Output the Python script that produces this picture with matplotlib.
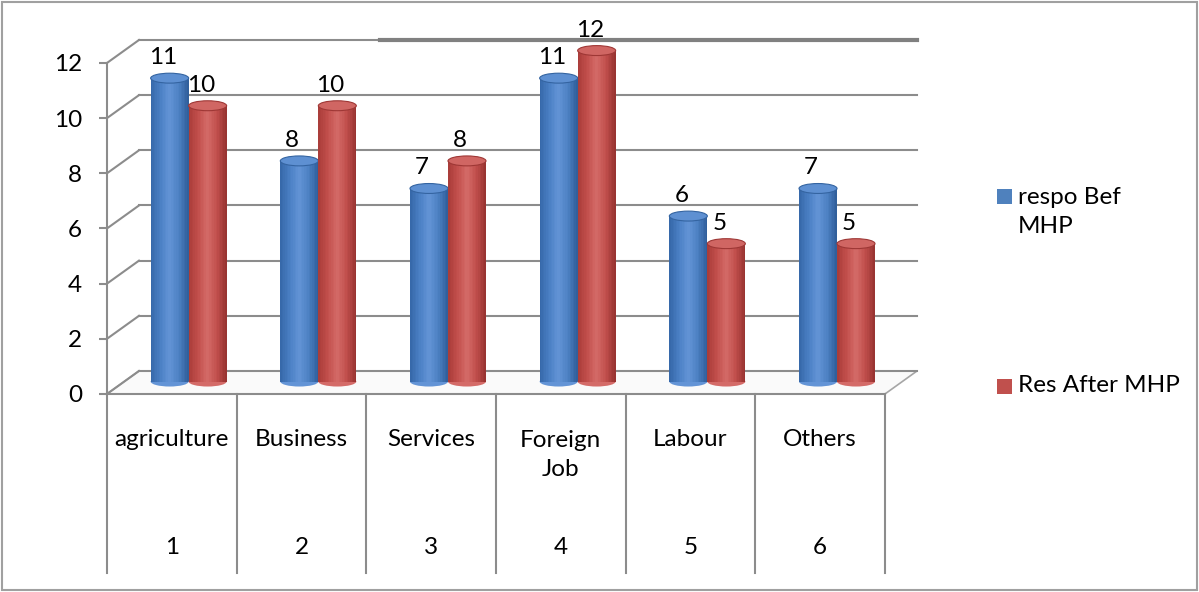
import numpy as np
import matplotlib.pyplot as plt
from matplotlib.patches import Ellipse, Polygon, Rectangle
from matplotlib.colors import LinearSegmentedColormap

categories = ["agriculture", "Business", "Services", "Foreign\nJob", "Labour", "Others"]
positions = ["1", "2", "3", "4", "5", "6"]
before = [11, 8, 7, 11, 6, 7]
after = [10, 10, 8, 12, 5, 5]
series_names = ["respo Bef\nMHP", "Res After MHP"]
series_colors = ["#4F81BD", "#C0504D"]

plt.rcParams["font.family"] = ["Lato", "DejaVu Sans"]

fig = plt.figure(figsize=(11.99, 5.92), dpi=100)
ax = fig.add_axes([0.0892, 0.3345, 0.6489, 0.5591])
ax.set_xlim(0, 6)
ax.set_ylim(0, 12)

DX, DY = 0.247, 0.834  # depth of the fake 3d box, in data units
grid_c = "#8c8c8c"
fs = 17.5

# floor
floor = Polygon([(0, 0), (6, 0), (6 + DX, DY), (DX, DY)], closed=True,
                facecolor="#fafafa", edgecolor="#a6a6a6", lw=1.2, zorder=0.5, clip_on=False)
ax.add_patch(floor)

# back wall gridlines and the slanted lines on the left wall
for v in range(0, 13, 2):
    ax.plot([DX, 6 + DX], [v + DY, v + DY], color=grid_c, lw=1.5, zorder=1, clip_on=False)
    ax.plot([0, DX], [v, v + DY], color=grid_c, lw=1.5, zorder=1, clip_on=False)
ax.plot([1.86 + DX, 6 + DX], [12 + DY, 12 + DY], color="#808080", lw=3, zorder=1.1, clip_on=False)

# axes frame
for s in ["top", "right"]:
    ax.spines[s].set_visible(False)
for s in ["left", "bottom"]:
    ax.spines[s].set_color(grid_c)
    ax.spines[s].set_linewidth(1.5)
ax.set_yticks(range(0, 13, 2))
ax.tick_params(axis="y", length=5.8, width=1.5, color=grid_c, pad=12, labelsize=fs)
ax.set_xticks([])
ax.patch.set_visible(False)

# category table under the axis
xt = ax.get_xaxis_transform()
for i in range(7):
    ax.plot([i, i], [0, -0.541], color=grid_c, lw=1.5, transform=xt, clip_on=False)
for i, (cat, pos) in enumerate(zip(categories, positions)):
    nl = cat.count("\n")
    ax.text(i + 0.5, -0.139 - 0.046 * nl, cat, transform=xt, ha="center", va="center",
            fontsize=fs, linespacing=1.45)
    ax.text(i + 0.5, -0.465, pos, transform=xt, ha="center", va="center", fontsize=fs)

# cylinders
w = 0.293
bar_dx, bar_dy = 0.13, 0.45
cap_h = 0.36
profiles = [
    ["#3567a8", "#4a7fc4", "#6394d6", "#4c80c2", "#2f5d99"],
    ["#a83b38", "#c24f4c", "#d46b68", "#c04e4b", "#963230"],
]
nslice = 24
x0 = np.arange(len(categories)) + 0.5 + bar_dx
for k, vals in enumerate([before, after]):
    cmap = LinearSegmentedColormap.from_list("cyl%d" % k, profiles[k])
    xc = x0 + (k - 0.5) * w
    vals = np.array(vals)
    for j in range(nslice):
        t = (j + 0.5) / nslice
        ax.bar(xc - w / 2 + j * w / nslice, vals, width=w / nslice * 1.05, bottom=bar_dy,
               align="edge", color=cmap(t), lw=0, zorder=3 + k * 0.1, clip_on=False)
    for x, v in zip(xc, vals):
        ax.add_patch(Ellipse((x, bar_dy), w, cap_h, facecolor=cmap(0.5), lw=0,
                             zorder=2.9 + k * 0.1, clip_on=False))
        ax.add_patch(Ellipse((x, v + bar_dy), w, cap_h, facecolor=cmap(0.45),
                             edgecolor=cmap(0.95), lw=0.8, zorder=3.05 + k * 0.1, clip_on=False))
        ax.annotate(str(v), (x, v + bar_dy), xytext=(-5, 14.8), textcoords="offset points",
                    ha="center", va="center", fontsize=fs, zorder=5, annotation_clip=False)

# legend
leg_y = [212, 386]
for name, c, y in zip(series_names, series_colors, leg_y):
    sq_y = y - 16 if "\n" in name else y
    fig.add_artist(Rectangle((997 / 1199, 1 - (sq_y + 7.5) / 592), 15 / 1199, 15 / 592,
                             transform=fig.transFigure, facecolor=c, edgecolor="none"))
    fig.text(1018 / 1199, 1 - y / 592, name, ha="left", va="center",
             fontsize=fs, linespacing=1.45)

# outer frame
fig.add_artist(Rectangle((0.002, 0.003), 0.996, 0.994, transform=fig.transFigure,
                         fill=False, edgecolor="#a0a0a0", lw=1.5))

fig.savefig("out.png", dpi=100)
